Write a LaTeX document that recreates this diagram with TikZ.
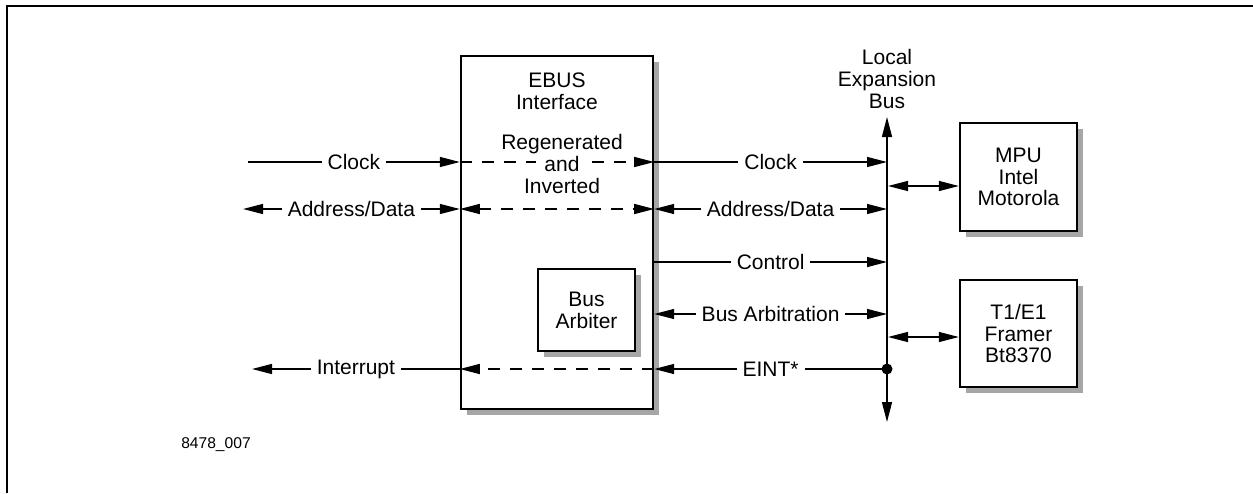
\documentclass[tikz,border=0pt]{standalone}
\usepackage{fontspec}
\setmainfont{Liberation Sans}
\usetikzlibrary{arrows.meta,shadows}

\tikzset{
	blk/.style={draw, line width=1.2pt, fill=white, drop shadow={shadow xshift=3pt, shadow yshift=-3pt, fill=black!35, opacity=1}},
	txt/.style={font=\fontsize{10.5}{10.9}\selectfont, align=center, inner sep=0pt},
	lbl/.style={txt, fill=white, inner xsep=3pt, inner ysep=1pt},
	sig/.style={line width=0.7pt, -{Triangle[length=10pt,width=5pt]}},
	bisig/.style={line width=0.7pt, {Triangle[length=10pt,width=5pt]}-{Triangle[length=10pt,width=5pt]}},
	dsh/.style={dash pattern=on 6pt off 5pt}
}

\begin{document}
\begin{tikzpicture}[x=0.5pt, y=-0.5pt]
	\useasboundingbox (0,0) rectangle (1253,493);

	% frame
	\draw[line width=1pt] (6.5,493) -- (6.5,5.5) -- (1253,5.5);

	% blocks
	\node[blk, minimum width=96pt, minimum height=176.5pt] (ebus) at (557,232.5) {};
	\node[txt] (ebustitle) at (557,91) {EBUS\\Interface};
	\node[blk, txt, minimum width=48.5pt, minimum height=41pt] (arb) at (586.5,310) {Bus\\Arbiter};
	\node[blk, txt, minimum width=58.5pt, minimum height=54pt] (mpu) at (1018.5,177) {MPU\\Intel\\Motorola};
	\node[blk, txt, minimum width=58.5pt, minimum height=53.5pt] (framer) at (1018.5,333.5) {T1/E1\\Framer\\Bt8370};

	% local expansion bus
	\coordinate (bustop) at (887,117);
	\coordinate (busbot) at (887,422);
	\node[txt] (buslbl) at (887,79) {Local\\Expansion\\Bus};
	\draw[bisig] (busbot) -- (bustop);
	\node[circle, fill, inner sep=0pt, minimum size=5.5pt] (tap) at (887,369) {};

	% rows
	\coordinate (clk) at (248,162);
	\coordinate (ad) at (243,209);
	\coordinate (ctl) at (653,262);
	\coordinate (arbit) at (653,314);
	\coordinate (irq) at (252,369);
	\coordinate (mpuport) at (888,186);
	\coordinate (frport) at (888,337);

	% clock
	\draw[sig] (clk) -- node[lbl] {Clock} (ebus.west |- clk);
	\draw[sig, dsh] (ebus.west |- clk) -- (ebus.east |- clk);
	\node[txt] (regen) at (562,164) {Regenerated\\{\setlength{\fboxsep}{0pt}\colorbox{white}{\hspace{4pt}and\hspace{4pt}}}\\Inverted};
	\draw[sig] (ebus.east |- clk) -- node[lbl] {Clock} (bustop |- clk);

	% address/data
	\draw[bisig] (ad) -- node[lbl] {Address/Data} (ebus.west |- ad);
	\draw[bisig, dsh] (ebus.west |- ad) -- (ebus.east |- ad);
	\draw[bisig] (ebus.east |- ad) -- node[lbl] {Address/Data} (bustop |- ad);

	% control and arbitration
	\draw[sig] (ebus.east |- ctl) -- node[lbl] {Control} (bustop |- ctl);
	\draw[bisig] (ebus.east |- arbit) -- node[lbl] {Bus Arbitration} (bustop |- arbit);

	% interrupt
	\draw[sig] (tap.center) -- node[lbl] {EINT*} (ebus.east |- irq);
	\draw[sig, dsh] (ebus.east |- irq) -- (ebus.west |- irq);
	\draw[sig] (ebus.west |- irq) -- node[lbl] {Interrupt} (irq);

	% devices
	\draw[bisig] (mpuport) -- (mpu.west |- mpuport);
	\draw[bisig] (frport) -- (framer.west |- frport);

	\node[font=\fontsize{7.8}{9}\selectfont, inner sep=0pt] (fignum) at (216,445) {8478\_007};
\end{tikzpicture}
\end{document}
